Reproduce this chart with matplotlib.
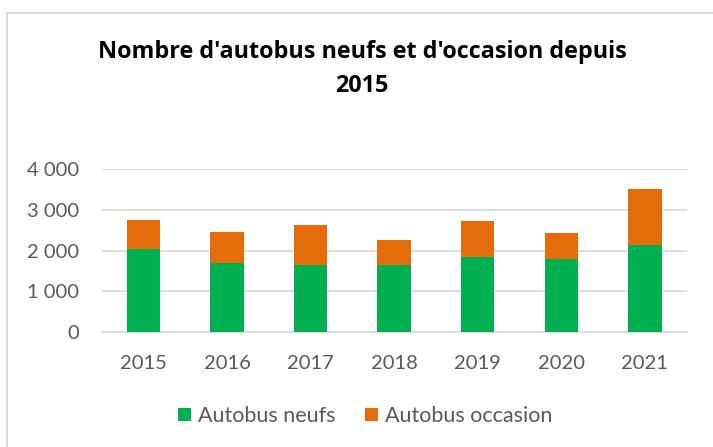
import matplotlib.pyplot as plt
from matplotlib.lines import Line2D
from matplotlib.ticker import FuncFormatter

annees = ["2015", "2016", "2017", "2018", "2019", "2020", "2021"]
neufs = [2030, 1700, 1660, 1650, 1840, 1790, 2150]
occasion = [715, 750, 970, 610, 890, 640, 1360]

vert = "#00B050"
orange = "#E46C0A"
gris = "#595959"

plt.rcParams["font.family"] = ["Lato", "DejaVu Sans"]

fig = plt.figure(figsize=(7.13, 4.47), dpi=100)
# cadre du graphique (seuls les bords haut et gauche sont visibles)
fig.lines.append(Line2D([6.5 / 713, 6.5 / 713, 1], [0, 1 - 12.5 / 447, 1 - 12.5 / 447],
                        transform=fig.transFigure, color="#d9d9d9", lw=1.5))

ax = fig.add_axes([0.1426, 0.2566, 0.963 - 0.1426, 0.622 - 0.2566])
x = range(len(annees))
ax.bar(x, neufs, width=0.4, color=vert, label="Autobus neufs", zorder=3)
ax.bar(x, occasion, width=0.4, bottom=neufs, color=orange,
       label="Autobus occasion", zorder=3)

ax.set_xlim(-0.5, len(annees) - 0.5)
ax.set_ylim(0, 4000)
ax.set_yticks([0, 1000, 2000, 3000, 4000])
ax.yaxis.set_major_formatter(FuncFormatter(lambda v, p: f"{int(v):,}".replace(",", " ")))
ax.set_xticks(list(x))
ax.set_xticklabels(annees)
ax.grid(axis="y", color="#d9d9d9", lw=1.2, zorder=0)
for s in ["top", "right", "left"]:
    ax.spines[s].set_visible(False)
ax.spines["bottom"].set_color("#d9d9d9")
ax.spines["bottom"].set_linewidth(1.2)
ax.tick_params(length=0, labelsize=14.5, labelcolor=gris)
ax.tick_params(axis="y", pad=16)
ax.tick_params(axis="x", pad=16)

fig.text(0.508, 1 - 69 / 447, "Nombre d'autobus neufs et d'occasion depuis\n2015",
         ha="center", va="center", fontsize=16.8, fontweight="bold",
         family=["Open Sans", "DejaVu Sans"], linespacing=1.55, color="black")

fig.legend(loc="center", bbox_to_anchor=(0.512, 1 - 416 / 447), ncol=2,
           frameon=False, fontsize=15.5, labelcolor=gris, handlelength=0.6,
           handleheight=0.6, handletextpad=0.3, columnspacing=1.4)

fig.savefig("out.png", dpi=100)
